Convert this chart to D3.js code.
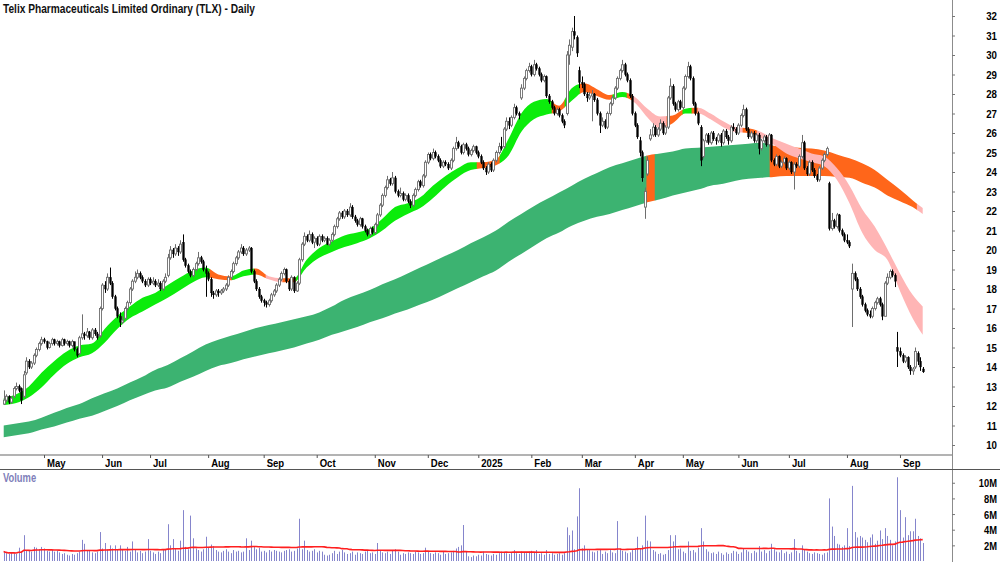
<!DOCTYPE html>
<html>
<head>
<meta charset="utf-8">
<script src="https://cdn.jsdelivr.net/npm/d3@7"></script>
<style>
body { margin: 0; background: #fff; }
svg { display: block; font-family: "Liberation Sans", Arial, sans-serif; }
</style>
</head>
<body>
<svg id="chart" width="1000" height="562"></svg>
<script>
// ---- data: one entry per trading day, Apr 2024 .. 11 Sep 2025 ----
var opens = [
12.1,12.3,12.5,12.2,12.5,12.9,13.0,12.9,12.5,13.7,
14.3,14.0,14.2,14.6,14.9,15.2,15.4,15.3,15.0,15.2,
15.4,15.2,15.3,15.1,15.4,15.2,15.3,15.1,15.3,14.9,
14.7,15.5,15.7,15.6,15.8,15.5,15.9,15.7,15.6,17.0,
18.2,18.0,18.6,18.3,17.6,17.0,16.6,16.3,16.5,17.0,
17.3,18.0,18.4,18.6,18.8,18.6,18.4,18.2,18.5,18.3,
18.4,18.2,18.3,18.0,18.4,18.7,19.6,20.0,19.8,20.1,
19.9,20.4,19.5,19.2,18.9,18.7,19.0,19.3,19.6,19.4,
19.0,18.8,18.5,17.8,17.7,17.9,17.8,17.9,18.0,18.2,
18.6,18.9,19.3,19.6,19.9,20.1,19.8,20.0,20.1,18.9,
18.4,18.0,17.6,17.4,17.3,17.2,17.4,17.7,17.9,18.2,
18.5,18.8,19.0,18.4,18.0,18.6,17.9,18.3,19.5,20.3,
20.7,20.5,20.8,20.4,20.6,20.3,20.7,20.5,20.6,20.3,
20.5,20.8,21.2,21.6,21.9,21.7,22.0,21.8,22.2,21.7,
21.5,21.3,21.6,21.2,21.0,20.8,21.1,20.9,21.3,21.8,
22.3,22.8,23.2,23.6,23.4,23.7,23.0,22.8,22.9,22.6,
22.8,22.5,22.3,22.8,23.1,23.5,23.3,23.8,24.5,24.9,
24.7,25.0,24.8,24.6,24.3,24.5,24.4,24.2,24.6,25.2,
25.5,25.3,25.0,25.4,25.2,24.9,25.1,25.3,25.0,24.8,
24.5,24.2,24.0,24.4,24.1,24.6,25.0,25.3,25.3,26.2,
26.6,26.4,26.8,27.3,27.0,27.8,28.3,28.8,29.2,29.4,
29.0,29.5,29.3,29.0,28.7,28.9,27.9,27.6,27.3,27.0,
27.2,26.9,26.6,27.0,30.0,30.4,31.2,30.9,29.2,28.6,
28.5,28.0,27.8,27.9,28.0,27.7,27.0,26.4,26.6,26.3,
27.0,27.5,27.8,28.3,28.8,29.2,29.5,29.0,28.7,27.9,
27.0,26.4,25.6,25.0,22.2,23.9,25.7,25.9,26.3,25.9,
26.2,26.5,26.0,26.3,27.8,28.4,27.5,27.2,27.6,27.3,
28.3,28.9,29.4,28.8,27.5,27.0,26.3,24.8,25.6,25.9,
25.5,26.0,25.7,25.6,25.9,25.5,26.1,25.8,25.6,26.3,
26.2,26.0,26.4,26.9,27.2,26.2,25.8,26.0,25.6,25.9,
25.2,25.6,25.8,25.4,25.9,24.6,24.4,24.8,24.3,24.5,
24.7,24.2,24.5,24.0,24.4,24.3,24.8,25.5,24.2,23.9,
24.5,24.1,23.8,23.6,24.2,24.6,24.9,23.4,21.1,21.5,
21.2,21.8,21.0,20.8,20.5,20.4,18.0,18.8,18.5,18.0,
17.6,17.2,16.9,16.7,16.6,17.0,17.3,17.5,17.2,16.6,
18.3,18.6,18.9,18.7,15.0,14.8,14.6,14.3,14.5,14.0,
13.8,14.0,14.7,14.3,13.9
];
var highs = [
12.8,12.6,12.55,12.5,13.0,13.2,13.1,12.95,13.8,14.5,
14.4,14.3,14.7,15.0,15.3,15.55,15.5,15.35,15.3,15.5,
15.45,15.4,15.35,15.5,15.45,15.4,15.35,15.4,15.3,15.0,
15.6,16.7,15.8,16.0,15.85,16.0,16.0,15.8,17.1,18.3,
18.4,18.8,19.1,18.4,17.7,17.1,16.8,16.6,17.1,17.4,
18.1,18.5,18.9,19.0,18.9,18.7,18.5,18.6,18.6,18.6,
18.5,18.5,18.4,18.5,18.8,19.8,20.2,20.1,20.3,20.2,
20.5,20.8,19.6,19.3,19.0,19.1,19.4,19.9,19.7,19.5,
19.2,18.9,18.6,17.9,18.0,18.0,18.0,18.1,18.3,18.7,
19.0,19.4,19.7,20.0,20.3,20.2,20.1,20.2,20.15,19.0,
18.5,18.1,17.7,17.5,17.4,17.5,17.8,18.0,18.3,18.6,
18.9,19.1,19.05,18.5,18.7,18.65,18.4,19.6,20.4,20.9,
20.8,21.0,20.9,20.7,20.7,20.8,20.8,20.7,20.7,20.6,
20.9,21.3,21.7,22.0,22.0,22.1,22.1,22.4,22.3,21.8,
21.6,21.7,21.65,21.3,21.1,21.2,21.2,21.4,21.9,22.4,
22.9,23.3,23.8,23.7,24.0,23.8,23.1,23.2,23.0,22.9,
22.9,22.6,22.9,23.2,23.6,23.6,23.9,24.6,25.0,25.0,
25.2,25.1,24.9,24.7,24.6,24.6,24.5,24.7,25.3,25.8,
25.6,25.4,25.5,25.5,25.3,25.2,25.4,25.35,25.1,24.9,
24.6,24.3,24.5,24.5,24.7,25.1,25.5,25.8,26.3,26.8,
26.8,26.9,27.5,27.4,27.1,28.5,28.9,29.3,29.6,29.5,
29.75,29.6,29.4,29.1,29.0,28.95,28.0,27.7,27.4,27.3,
27.3,27.0,26.7,30.2,30.8,31.4,32.0,31.0,29.4,28.9,
28.6,28.1,28.1,28.2,28.05,27.8,27.1,26.8,26.7,27.1,
27.6,27.9,28.4,28.9,29.3,29.75,29.6,29.1,28.8,28.0,
27.1,26.5,25.8,25.1,23.2,24.8,26.2,26.5,26.4,26.3,
26.7,26.6,26.4,27.9,28.8,28.5,27.6,27.7,27.7,28.4,
29.0,29.65,29.5,28.9,27.6,27.1,26.4,25.7,26.0,26.0,
26.1,26.1,25.8,26.0,26.0,26.2,26.2,25.9,26.4,26.5,
26.3,26.5,27.0,27.45,27.3,26.3,26.1,26.1,26.0,26.0,
25.7,25.9,25.9,26.0,25.95,24.7,24.9,24.85,24.6,24.8,
24.75,24.6,24.55,24.5,24.5,24.9,25.9,25.6,24.3,24.6,
24.6,24.2,23.9,24.3,24.7,25.0,25.3,23.5,21.9,21.6,
21.9,21.85,21.1,20.9,20.8,20.5,19.3,18.9,18.6,18.1,
17.7,17.3,17.0,16.9,17.1,17.4,17.6,17.6,17.3,18.4,
18.8,19.0,19.0,18.8,15.8,15.0,14.7,14.6,14.55,14.1,
14.0,15.0,14.8,14.5,14.0
];
var lows = [
12.05,12.2,12.1,12.1,12.4,12.8,12.7,12.1,12.4,13.6,
13.9,13.9,14.1,14.5,14.8,15.1,15.2,14.9,14.95,15.1,
15.1,15.1,15.0,15.05,15.1,15.1,15.0,15.0,14.8,14.5,
14.6,15.4,15.4,15.5,15.4,15.4,15.6,15.4,15.5,16.9,
17.8,17.9,18.2,17.5,16.9,16.5,16.05,16.2,16.4,16.9,
17.2,17.9,18.3,18.5,18.5,18.3,18.1,18.1,18.2,18.2,
18.1,18.1,17.9,17.9,18.3,18.6,19.5,19.6,19.7,19.7,
19.8,19.4,19.1,18.8,18.6,18.6,18.9,19.2,19.3,18.9,
17.6,18.4,17.6,17.5,17.6,17.6,17.7,17.8,17.9,18.1,
18.5,18.8,19.2,19.5,19.8,19.7,19.7,19.9,18.8,18.3,
17.9,17.5,17.3,17.1,17.05,17.1,17.3,17.6,17.8,18.1,
18.4,18.7,18.3,17.9,17.9,17.8,17.85,18.2,19.4,20.2,
20.4,20.4,20.3,20.1,20.2,20.2,20.4,20.4,20.25,20.2,
20.4,20.7,21.1,21.5,21.6,21.6,21.7,21.7,21.6,21.4,
21.2,21.2,21.1,20.9,20.7,20.7,20.8,20.8,21.2,21.7,
22.2,22.7,23.1,23.3,23.3,22.9,22.7,22.7,22.5,22.5,
22.4,22.15,22.2,22.7,23.0,23.2,23.2,23.7,24.4,24.6,
24.6,24.7,24.5,24.2,24.2,24.3,24.1,24.1,24.5,25.1,
25.2,24.9,24.9,25.1,24.8,24.8,25.0,24.9,24.7,24.4,
24.1,23.85,23.9,24.0,24.0,24.5,24.9,25.1,25.2,26.1,
26.2,26.3,26.7,26.9,26.7,27.7,28.2,28.7,29.1,28.9,
28.9,29.2,28.9,28.6,28.6,27.8,27.5,27.2,26.9,26.9,
26.8,26.5,26.25,26.9,29.5,30.2,30.8,29.9,28.3,28.3,
27.9,27.6,27.7,26.6,27.6,26.9,26.0,26.3,26.2,26.2,
26.9,27.4,27.7,28.2,28.7,29.1,28.9,28.6,27.8,26.9,
26.3,25.7,24.8,23.5,21.6,23.8,25.6,25.8,25.8,25.8,
26.1,25.9,25.9,26.2,27.7,27.4,27.1,27.1,27.2,27.2,
28.2,28.8,28.7,27.4,26.9,26.4,24.3,24.7,25.5,25.4,
25.4,25.6,25.4,25.5,25.3,25.4,25.7,25.4,25.5,26.1,
25.9,25.9,26.3,26.8,26.1,25.7,25.7,25.5,25.5,24.9,
25.1,25.5,25.3,25.3,24.5,24.3,24.3,24.2,24.2,24.4,
24.1,24.1,23.9,23.1,24.2,24.2,24.7,24.1,23.8,23.8,
24.0,23.7,23.5,23.5,24.1,24.5,24.8,21.0,21.0,21.1,
21.1,20.9,20.7,20.4,20.3,20.1,16.05,18.4,17.9,17.5,
17.1,16.8,16.6,16.5,16.5,16.9,17.2,17.1,16.4,16.6,
18.2,18.5,18.6,18.1,14.0,14.5,14.2,14.2,13.9,13.6,
13.6,13.9,14.1,13.8,13.7
];
var closes = [
12.3,12.5,12.2,12.4,12.9,13.0,12.8,12.3,13.6,14.3,
14.0,14.2,14.6,14.9,15.2,15.4,15.3,15.0,15.2,15.4,
15.2,15.3,15.1,15.4,15.2,15.3,15.1,15.3,14.9,14.6,
15.5,15.7,15.6,15.8,15.5,15.9,15.7,15.5,17.0,18.2,
18.0,18.6,18.3,17.6,17.0,16.6,16.3,16.4,17.0,17.3,
18.0,18.4,18.6,18.8,18.6,18.4,18.2,18.5,18.3,18.4,
18.2,18.3,18.0,18.4,18.6,19.6,20.0,19.8,20.1,19.9,
20.3,19.5,19.2,18.9,18.7,19.0,19.3,19.6,19.4,19.0,
18.8,18.5,17.8,17.7,17.9,17.8,17.9,18.0,18.2,18.6,
18.9,19.3,19.6,19.9,20.1,19.8,20.0,20.1,18.9,18.4,
18.0,17.6,17.4,17.3,17.2,17.4,17.7,17.9,18.2,18.5,
18.8,19.0,18.4,18.0,18.6,17.9,18.3,19.5,20.3,20.7,
20.5,20.8,20.4,20.6,20.3,20.7,20.5,20.6,20.3,20.5,
20.8,21.2,21.6,21.9,21.7,22.0,21.8,22.2,21.7,21.5,
21.3,21.6,21.2,21.0,20.8,21.1,20.9,21.3,21.8,22.3,
22.8,23.2,23.6,23.4,23.7,23.0,22.8,22.9,22.6,22.8,
22.5,22.3,22.8,23.1,23.5,23.3,23.8,24.5,24.9,24.7,
25.0,24.8,24.6,24.3,24.5,24.4,24.2,24.6,25.2,25.5,
25.3,25.0,25.4,25.2,24.9,25.1,25.3,25.0,24.8,24.5,
24.2,24.0,24.4,24.1,24.6,25.0,25.3,25.2,26.2,26.6,
26.4,26.8,27.3,27.0,26.9,28.3,28.8,29.2,29.4,29.0,
29.5,29.3,29.0,28.7,28.9,27.9,27.6,27.3,27.0,27.2,
26.9,26.6,26.4,30.0,30.5,31.2,31.0,30.1,28.6,28.5,
28.0,27.8,27.9,28.0,27.7,27.0,26.4,26.6,26.3,27.0,
27.5,27.8,28.3,28.8,29.2,29.5,29.0,28.7,27.9,27.0,
26.4,25.8,25.0,23.7,23.0,24.6,25.9,26.3,25.9,26.2,
26.5,26.0,26.3,27.8,28.4,27.5,27.2,27.6,27.3,28.3,
28.9,29.4,28.8,27.5,27.0,26.5,24.6,25.6,25.9,25.5,
26.0,25.7,25.6,25.9,25.5,26.1,25.8,25.6,26.3,26.2,
26.0,26.4,26.9,27.2,26.2,25.8,26.0,25.6,25.9,25.2,
25.6,25.8,25.4,25.9,24.6,24.4,24.8,24.3,24.5,24.7,
24.2,24.5,24.0,24.4,24.3,24.8,25.5,24.2,23.9,24.5,
24.1,23.8,23.6,24.2,24.6,24.9,25.2,21.1,21.5,21.2,
21.8,21.0,20.8,20.5,20.4,20.2,18.8,18.5,18.0,17.6,
17.2,16.9,16.7,16.6,17.0,17.3,17.5,17.2,16.6,18.3,
18.6,18.9,18.7,18.4,14.8,14.6,14.3,14.5,14.0,13.8,
13.9,14.8,14.3,14.0,13.75
];
// volume in millions
var volumes = [
1.2,1.0,0.9,1.1,1.0,0.9,1.7,1.2,3.3,1.4,
1.3,1.2,1.8,1.7,1.5,1.8,1.6,1.3,1.2,1.4,
1.2,1.3,1.1,0.9,1.0,0.8,0.7,0.9,0.8,1.0,
1.2,2.7,2.2,1.4,1.3,1.1,1.0,1.2,3.7,1.6,
2.3,1.5,2.0,1.6,2.0,1.4,2.0,1.5,1.3,1.8,
1.2,2.5,1.4,1.1,1.3,1.0,1.2,2.8,1.3,1.1,
0.9,1.2,1.0,1.4,1.5,4.7,2.0,2.8,1.6,1.3,
2.6,6.5,1.8,1.5,5.8,2.9,1.6,1.4,1.2,1.5,
3.1,1.7,2.1,1.9,1.4,1.2,1.1,1.3,1.5,1.2,
1.0,1.4,1.2,1.3,1.1,1.2,2.9,1.4,2.6,1.8,
1.5,1.7,1.2,1.3,1.1,1.4,1.2,1.4,1.3,1.2,
1.1,1.3,1.4,1.5,1.2,1.3,1.6,5.4,1.5,2.6,
1.4,1.2,1.3,1.5,1.1,1.3,1.2,0.8,0.7,0.8,
1.0,1.3,0.9,1.2,1.4,1.1,0.9,1.0,1.2,0.8,
1.1,1.0,0.9,1.2,1.3,1.0,1.1,0.9,2.3,1.3,
1.1,1.0,1.2,0.9,1.3,1.5,1.2,0.8,1.0,0.9,
1.1,1.0,0.9,1.2,1.1,0.9,1.0,1.7,1.2,1.0,
0.9,1.1,1.0,0.8,1.2,0.9,1.0,1.1,1.3,1.6,
1.8,2.0,4.6,1.2,0.6,0.5,0.7,0.6,0.8,0.7,
1.2,0.9,0.8,0.7,0.9,0.8,1.0,1.2,1.1,1.0,
0.9,1.1,1.4,1.0,0.9,1.2,1.1,1.0,1.2,1.3,
1.1,1.4,0.9,1.0,0.8,1.4,0.9,1.0,0.8,0.9,
1.0,0.8,1.0,4.3,3.3,3.9,1.5,5.7,9.3,1.6,
2.0,1.4,1.5,1.2,1.1,1.3,1.5,0.9,1.2,1.0,
1.5,1.1,1.0,5.1,1.6,1.3,1.2,1.0,1.1,1.4,
1.5,3.1,1.6,2.0,5.8,2.6,2.5,1.4,1.2,0.9,
1.0,0.8,0.9,1.4,3.3,2.5,3.3,1.5,1.6,1.2,
1.0,2.5,1.3,1.4,1.1,1.7,4.2,2.5,1.5,1.2,
1.0,1.1,0.9,1.2,1.0,0.8,1.1,0.9,1.0,1.3,
1.2,0.9,1.1,1.6,1.4,1.2,1.0,1.3,1.1,1.9,
1.2,1.4,1.0,1.3,2.2,1.5,1.2,1.1,1.4,1.0,
1.2,0.9,1.1,2.8,1.3,1.0,2.0,1.5,1.2,1.0,
0.9,1.1,1.0,0.9,0.8,1.0,1.1,8.0,4.4,3.2,
2.2,2.1,1.8,2.0,4.2,1.9,9.6,3.7,3.0,3.2,
3.0,2.7,2.4,3.0,3.4,2.2,2.6,3.9,2.8,4.2,
3.2,2.7,2.0,2.5,10.7,6.5,3.0,5.6,3.3,3.8,
3.8,5.4,3.2,2.9,2.3
];

// moving-average bands, read every 5th trading day (last one = final day)
var bandDays = d3.range(0, 361, 5).concat([364]);
var shortUpper = [12.4,12.6,13.0,13.7,14.3,14.8,15.1,15.2,15.95,16.6,
  17.1,17.55,17.8,18.2,18.6,18.95,19.1,18.75,18.65,18.95,
  19.05,18.65,18.55,18.55,19.5,20.1,20.45,20.75,20.9,21.1,
  21.6,22.2,22.4,22.7,23.3,23.8,24.2,24.5,24.5,24.65,
  25.7,27.0,27.6,27.75,27.4,28.3,28.55,28.25,27.95,28.1,
  27.85,27.25,26.85,26.9,27.25,27.3,27.0,26.6,26.3,26.25,
  26.05,25.7,25.45,25.2,24.95,24.8,24.2,23.3,22.1,21.2,
  20.05,18.8,17.7,17.1];
var shortLower = [12.05,12.15,12.45,12.95,13.6,14.15,14.5,14.7,15.25,15.95,
  16.5,16.85,17.2,17.55,17.95,18.35,18.6,18.5,18.45,18.65,
  18.75,18.5,18.35,18.35,19.1,19.6,19.9,20.15,20.35,20.6,
  21.0,21.5,21.85,22.15,22.65,23.25,23.75,24.1,24.2,24.35,
  24.85,26.05,26.7,26.95,27.1,27.65,28.1,27.9,27.7,27.85,
  27.55,26.8,26.25,26.5,27.0,27.0,26.7,26.3,26.05,26.0,
  25.75,25.4,24.95,24.7,24.5,24.3,23.6,22.4,20.9,20.0,
  19.5,17.9,16.5,15.65];
var longUpper = [11.0,11.1,11.2,11.4,11.65,11.9,12.1,12.4,12.65,12.9,
  13.2,13.5,13.85,14.1,14.45,14.8,15.15,15.4,15.6,15.8,
  16.0,16.15,16.3,16.45,16.6,16.8,17.1,17.45,17.7,17.95,
  18.25,18.5,18.8,19.1,19.4,19.7,20.0,20.35,20.65,21.0,
  21.45,21.85,22.25,22.6,22.95,23.3,23.65,23.95,24.25,24.45,
  24.65,24.85,24.95,25.05,25.2,25.25,25.3,25.35,25.4,25.45,
  25.5,25.35,25.3,25.25,25.2,25.1,24.9,24.7,24.45,24.1,
  23.6,23.1,22.55,22.15];
var longLower = [10.4,10.5,10.6,10.8,10.95,11.15,11.35,11.5,11.75,12.0,
  12.3,12.55,12.8,12.95,13.25,13.5,13.8,14.05,14.2,14.4,
  14.55,14.7,14.85,15.0,15.2,15.4,15.65,15.85,16.05,16.3,
  16.5,16.75,16.95,17.2,17.45,17.75,18.05,18.35,18.65,18.95,
  19.4,19.8,20.2,20.6,20.9,21.25,21.5,21.7,21.85,22.05,
  22.25,22.45,22.6,22.8,22.95,23.1,23.3,23.4,23.55,23.65,
  23.7,23.75,23.8,23.8,23.8,23.8,23.75,23.7,23.45,23.2,
  22.8,22.5,22.2,21.85];

// colour runs of the bands: start day and trend state
var shortRunStart = [0,81.7,90.5,99.2,103.9,110.6,115.8,187.5,196.6,217.2,222.3,228.3,241.3,246.9,249.3,262.7,269,272.6,275,292.8,298.4];
var shortRunState = ["g","o","g","o","p","o","g","o","g","o","g","o","g","o","p","o","g","o","p","o","p"];
var longRunStart = [0,254.7,258,303.5,361.8];
var longRunState = ["G","o","G","o","p"];

// axis labels
var monthDays = [16,39,58,81,103,124,147,168,188,209,229,250,269,291,311,334,355];
var monthLabels = ["May","Jun","Jul","Aug","Sep","Oct","Nov","Dec","2025","Feb","Mar","Apr","May","Jun","Jul","Aug","Sep"];
var priceTicks = [10,11,12,13,14,15,16,17,18,19,20,21,22,23,24,25,26,27,28,29,30,31,32];
var volTicks = [2,4,6,8,10];

var title = "Telix Pharmaceuticals Limited Ordinary (TLX) - Daily";

// ---- drawing ----
var svg = d3.select("#chart");
var lastDay = closes.length - 1;

var xScale = d3.scaleLinear().domain([0, lastDay]).range([3.6, 922.7]);
var yScale = d3.scaleLinear().domain([10, 32]).range([445, 16]);
var vScale = d3.scaleLinear().domain([0, 10]).range([561, 482.75]);

var colours = {g: "#0bec0b", o: "#ff661a", p: "#ffb5b5", G: "#3cb371"};

var defs = svg.append("defs");
var bandData = bandDays.map(function(d, i) {
  return {day: d, su: shortUpper[i], sl: shortLower[i], lu: longUpper[i], ll: longLower[i]};
});

function drawBand(runStart, runState, hi, lo, name) {
  var area = d3.area()
    .x(function(d) { return xScale(d.day); })
    .y0(function(d) { return yScale(d[lo]); })
    .y1(function(d) { return yScale(d[hi]); })
    .curve(d3.curveMonotoneX);
  var g = svg.append("g");
  runStart.forEach(function(s, k) {
    var e = k < runStart.length - 1 ? runStart[k + 1] : lastDay;
    var id = name + k;
    defs.append("clipPath").attr("id", id).append("rect")
      .attr("x", xScale(s) - 0.3)
      .attr("width", xScale(e) - xScale(s) + 0.6)
      .attr("y", 0).attr("height", 455);
    g.append("path")
      .attr("d", area(bandData))
      .attr("fill", colours[runState[k]])
      .attr("clip-path", "url(#" + id + ")");
  });
}
drawBand(longRunStart, longRunState, "lu", "ll", "lclip");
drawBand(shortRunStart, shortRunState, "su", "sl", "sclip");

// candles
var bars = closes.map(function(c, i) {
  return {i: i, o: opens[i], h: highs[i], l: lows[i], c: c, v: volumes[i]};
});
function cx(d) { return Math.round(xScale(d.i)); }

svg.append("g").selectAll("line")
  .data(bars).enter().append("line")
    .attr("x1", function(d) { return cx(d) + 0.5; })
    .attr("x2", function(d) { return cx(d) + 0.5; })
    .attr("y1", function(d) { return yScale(d.h); })
    .attr("y2", function(d) { return yScale(d.l); })
    .attr("stroke", function(d) { return d.c >= d.o ? "#6e6e6e" : "#000"; })
    .attr("stroke-width", 1);

svg.append("g").selectAll("rect")
  .data(bars).enter().append("rect")
    .attr("x", function(d) { return cx(d) - 0.5; })
    .attr("width", 2)
    .attr("y", function(d) { return yScale(Math.max(d.o, d.c)); })
    .attr("height", function(d) { return Math.max(1, Math.abs(yScale(d.o) - yScale(d.c))); })
    .attr("fill", function(d) { return d.c >= d.o ? "#fff" : "#000"; })
    .attr("stroke", function(d) { return d.c >= d.o ? "#6e6e6e" : "#000"; })
    .attr("stroke-width", function(d) { return d.c >= d.o ? 0.9 : 0.3; });

// volume
svg.append("g").selectAll("rect")
  .data(bars).enter().append("rect")
    .attr("x", function(d) { return cx(d); })
    .attr("width", 1)
    .attr("y", function(d) { return vScale(d.v); })
    .attr("height", function(d) { return vScale(0) - vScale(d.v); })
    .attr("fill", "#8585cc");

var volMA = volumes.map(function(v, i) {
  return d3.mean(volumes.slice(Math.max(0, i - 62), i + 1));
});
var maLine = d3.line()
  .x(function(d, i) { return xScale(i); })
  .y(function(d) { return vScale(d); });
svg.append("path")
  .attr("d", maLine(volMA))
  .attr("fill", "none")
  .attr("stroke", "#ff1f1f")
  .attr("stroke-width", 1.6);

// frame lines
svg.append("line").attr("x1", 952.5).attr("x2", 952.5).attr("y1", 0).attr("y2", 562)
  .attr("stroke", "#8c8c8c");
svg.append("line").attr("x1", 0).attr("x2", 952).attr("y1", 455).attr("y2", 455)
  .attr("stroke", "#9a9a9a").attr("stroke-width", 1.5);
svg.append("line").attr("x1", 0).attr("x2", 1000).attr("y1", 469.5).attr("y2", 469.5)
  .attr("stroke", "#555");

function narrow(sel, f) {
  sel.each(function() {
    var w = this.getComputedTextLength();
    d3.select(this).attr("textLength", w * f).attr("lengthAdjust", "spacingAndGlyphs");
  });
}

// price axis
var yAxis = d3.axisRight(yScale).tickValues(priceTicks).tickSize(3).tickFormat(d3.format("d"));
var gy = svg.append("g").attr("transform", "translate(952,0)").call(yAxis)
  .attr("font-family", null).attr("font-size", 11).attr("font-weight", "bold");
gy.select(".domain").remove();
gy.selectAll(".tick line").attr("stroke", "#777");
gy.selectAll(".tick text").attr("x", 45).attr("dy", "0.36em").attr("text-anchor", "end").call(narrow, 0.88);

// volume axis
var vAxis = d3.axisRight(vScale).tickValues(volTicks).tickSize(3).tickFormat(function(d) { return d + "M"; });
var gv = svg.append("g").attr("transform", "translate(952,0)").call(vAxis)
  .attr("font-family", null).attr("font-size", 11).attr("font-weight", "bold");
gv.select(".domain").remove();
gv.selectAll(".tick line").attr("stroke", "#777");
gv.selectAll(".tick text").attr("x", 45).attr("dy", "0.36em").attr("text-anchor", "end").call(narrow, 0.85);

// date axis
var xAxis = d3.axisBottom(xScale).tickValues(monthDays).tickSize(3)
  .tickFormat(function(d) { return monthLabels[monthDays.indexOf(d)]; });
var gx = svg.append("g").attr("transform", "translate(0,455)").call(xAxis)
  .attr("font-family", null).attr("font-size", 11.5).attr("font-weight", "bold");
gx.select(".domain").remove();
gx.selectAll(".tick line").attr("stroke", "#555");
gx.selectAll(".tick text").attr("x", 2.5).attr("y", 12).attr("dy", null).attr("text-anchor", "start").call(narrow, 0.83);

// titles
svg.append("text").attr("x", 3).attr("y", 13)
  .attr("font-size", 13).attr("font-weight", "bold").attr("fill", "#111")
  .attr("textLength", 252).attr("lengthAdjust", "spacingAndGlyphs")
  .text(title);
svg.append("text").attr("x", 3).attr("y", 482)
  .attr("font-size", 12).attr("font-weight", "bold").attr("fill", "#7f7fba")
  .text("Volume").call(narrow, 0.78);
</script>
</body>
</html>
